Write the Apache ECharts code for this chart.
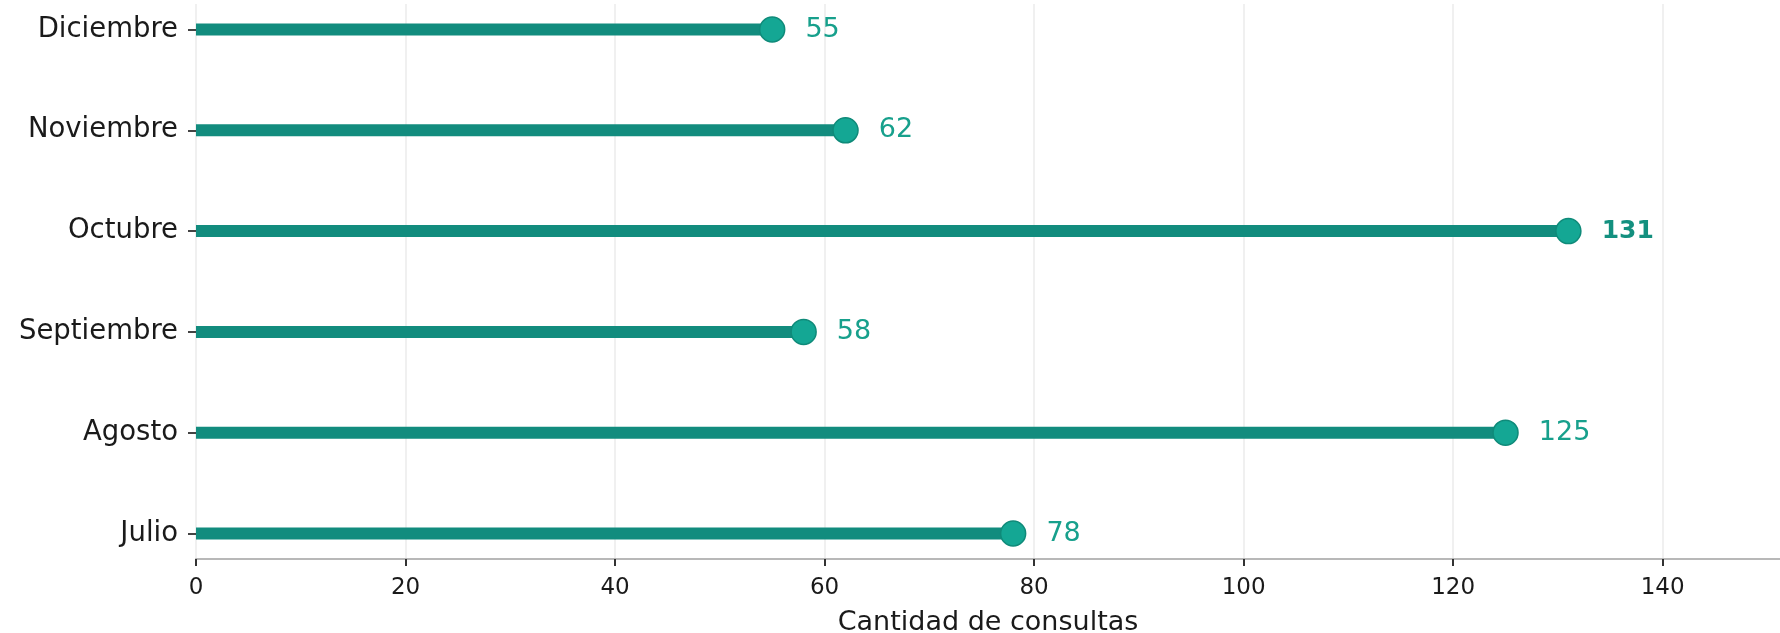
<!DOCTYPE html>
<html>
<head>
<meta charset="utf-8">
<script src="https://cdn.jsdelivr.net/npm/echarts@6/dist/echarts.min.js"></script>
<style>
  html, body { margin: 0; padding: 0; background: #fff; }
  #charts { width: 1780px; height: 633px; }
</style>
</head>
<body>
<div id="charts"></div>
<script>
// 月份（从下到上）
var months = [ 'Julio', 'Agosto', 'Septiembre', 'Octubre', 'Noviembre', 'Diciembre' ];
// 每月咨询数
var consultas = [ 78, 125, 58, 131, 62, 55 ];
var xTicks = [ 0, 20, 40, 60, 80, 100, 120, 140 ];

var teal = '#128c7e';
var tealDot = '#14a794';
var fontName = 'DejaVu Sans';
var axisMax = 151.2;

function drawLollipop( id ) {
  var myChart = echarts.init( document.getElementById( id ) );
  var maxVal = Math.max.apply( null, consultas );
  var option = {
    animation: false,
    backgroundColor: '#fff',
    grid: [
      // 画数据的网格：首尾分类落在边上
      { left: 196, right: 0, top: 29.5, bottom: 99.5, outerBoundsMode: 'none' },
      // 只负责网格线和横轴
      { left: 196, right: 0, top: 4, bottom: 74, outerBoundsMode: 'none' }
    ],
    xAxis: [
      {
        gridIndex: 0, type: 'value', min: 0, max: axisMax, interval: 20,
        show: false
      },
      {
        gridIndex: 1, type: 'value', min: 0, max: axisMax, interval: 20,
        name: 'Cantidad de consultas',
        nameLocation: 'middle',
        nameGap: 50,
        nameTextStyle: { color: '#1a1a1a', fontSize: 27, fontFamily: fontName },
        axisLine: { show: true, lineStyle: { color: '#b8b8b8', width: 2 } },
        axisTick: { show: true, length: 7, lineStyle: { color: '#333', width: 2 } },
        axisLabel: {
          color: '#1a1a1a', fontSize: 23, fontFamily: fontName, margin: 18,
          showMaxLabel: false,
          formatter: function( v ) { return xTicks.indexOf( v ) >= 0 ? String( v ) : ''; }
        },
        splitLine: { show: true, showMaxLine: false, lineStyle: { color: '#ebebeb', width: 1.5 } }
      }
    ],
    yAxis: [
      {
        gridIndex: 0, type: 'category', data: months, boundaryGap: false,
        axisLine: { show: false },
        axisTick: { show: true, length: 8, lineStyle: { color: '#444', width: 2 } },
        axisLabel: { color: '#1a1a1a', fontSize: 27.5, fontFamily: fontName, margin: 18 },
        splitLine: { show: false }
      },
      {
        gridIndex: 1, type: 'value', show: false
      }
    ],
    series: [
      {
        type: 'bar',
        xAxisIndex: 0, yAxisIndex: 0,
        data: consultas,
        barWidth: 12,
        itemStyle: { color: teal },
        z: 2
      },
      {
        type: 'scatter',
        xAxisIndex: 0, yAxisIndex: 0,
        data: consultas.map( function( v, i ) {
          var item = { value: [ v, months[ i ] ] };
          // 最大值加粗
          if( v === maxVal ) {
            item.label = { fontWeight: 'bold', color: '#13907f', fontSize: 25 };
          }
          return item;
        } ),
        symbolSize: 25,
        itemStyle: { color: tealDot, borderColor: '#0f8a79', borderWidth: 1.5, opacity: 1 },
        label: {
          show: true,
          position: 'right',
          distance: 20,
          fontFamily: fontName,
          fontSize: 27,
          color: '#17a08c',
          formatter: function( p ) { return p.value[ 0 ]; }
        },
        z: 3
      }
    ]
  };

  myChart.setOption( option );
}

drawLollipop( 'charts' );
</script>
</body>
</html>
